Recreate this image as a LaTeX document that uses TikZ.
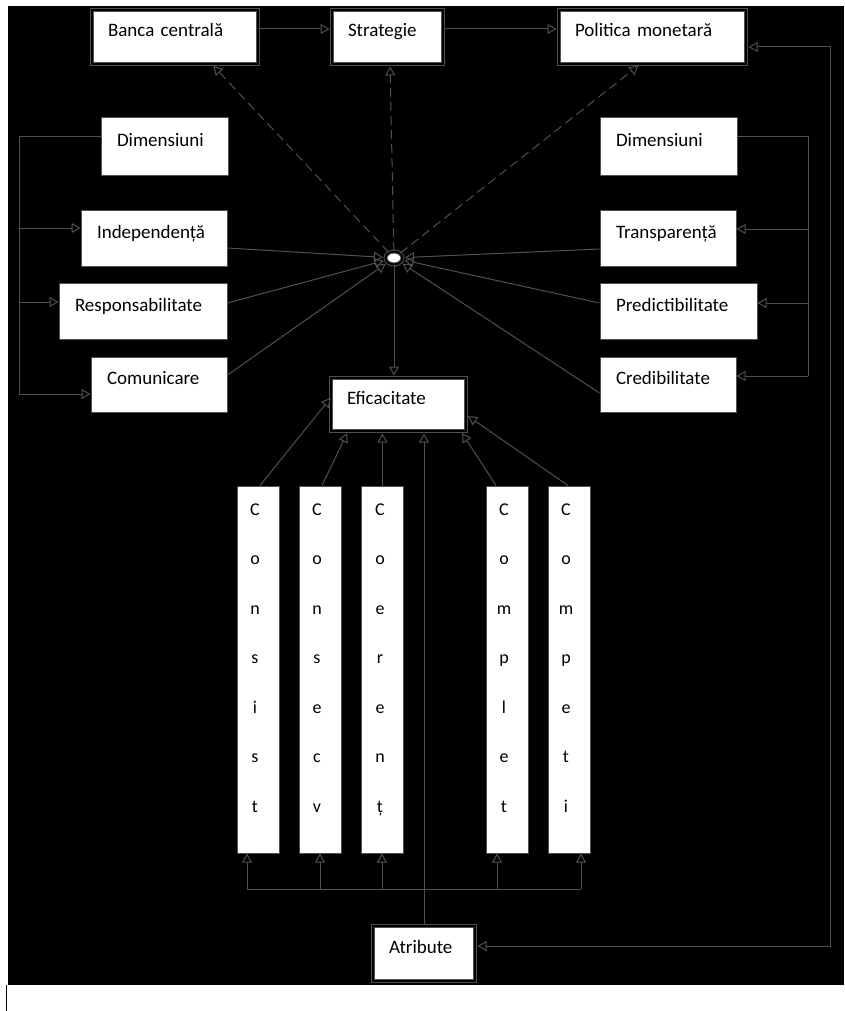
\documentclass[tikz,border=0pt]{standalone}
\usepackage{fontspec}
\setmainfont{Carlito}
\usetikzlibrary{arrows.meta,shapes.geometric,calc}
\definecolor{lc}{HTML}{505050}
\begin{document}
\begin{tikzpicture}[x=1pt,y=-1pt,
  every node/.style={font=\fontsize{19}{23}\selectfont, text=black},
  conn/.style={draw=lc, line width=1pt},
  tip/.style={-{Triangle[open,length=9pt,width=10pt]}},
  bothtip/.style={{Triangle[open,length=9pt,width=10pt]}-{Triangle[open,length=9pt,width=10pt]}},
  dsh/.style={conn, dash pattern=on 9pt off 5pt},
  sbox/.style={draw=lc, line width=1pt, fill=white, inner xsep=16pt, inner ysep=0pt, align=left},
  dbox/.style={sbox, double=black, double distance=2pt},
  cbox/.style={draw=lc, line width=1pt, fill=white, minimum width=42pt, minimum height=367pt, inner sep=0pt},
  letter/.style={font=\fontsize{18}{20}\selectfont, anchor=base, inner sep=0pt},
  hubst/.style={ellipse, draw=lc, line width=1pt, fill=white, double=black, double distance=2pt, minimum width=17pt, minimum height=13pt, inner sep=0pt}
]
\useasboundingbox (0,0) rectangle (844,1011);
\fill[white] (0,0) rectangle (844,1011);
\fill[black] (8,6) rectangle (844,985);
\draw[black, line width=1.5pt] (6.5,985) -- (6.5,1011);

% top row
\node[dbox, minimum height=54pt, text width=134pt] (banca) at (175,37) {\smash{Banca centrală}};
\node[dbox, minimum height=54pt, text width=79pt] (strat) at (387.5,37) {\smash{Strategie}};
\node[dbox, minimum height=54pt, text width=155pt] (polit) at (652.5,37) {\smash{Politica monetară}};

% left column
\node[sbox, minimum height=58pt, text width=95pt] (diml) at (164.5,147) {\smash{Dimensiuni}};
\node[sbox, minimum height=56pt, text width=114pt] (ind) at (154,238) {\smash{Independență}};
\node[sbox, minimum height=56pt, text width=136pt] (resp) at (143,311) {\smash{Responsabilitate}};
\node[sbox, minimum height=55pt, text width=104pt] (com) at (159,384.5) {\smash{Comunicare}};

% right column
\node[sbox, minimum height=58pt, text width=105pt] (dimr) at (668.5,147) {\smash{Dimensiuni}};
\node[sbox, minimum height=56pt, text width=104pt] (trans) at (668,238) {\smash{Transparență}};
\node[sbox, minimum height=56pt, text width=125pt] (pred) at (678.5,311) {\smash{Predictibilitate}};
\node[sbox, minimum height=55pt, text width=104pt] (cred) at (668,384.5) {\smash{Credibilitate}};

% centre
\node[hubst] (hub) at (394,258) {};
\node[dbox, minimum height=53pt, text width=103pt] (efic) at (398.5,404.5) {\smash{Eficacitate}};
\node[dbox, minimum height=55pt, text width=70pt] (atr) at (424,953.5) {\smash{Atribute}};

% vertical attribute boxes
\node[cbox] (c1) at (258,669.5) {};
\node[cbox] (c2) at (320,669.5) {};
\node[cbox] (c3) at (382.5,669.5) {};
\node[cbox] (c4) at (507,669.5) {};
\node[cbox] (c5) at (569,669.5) {};
\foreach \ch [count=\i] in {C,o,n,s,i,s,t}
  \node[letter] (c1l\i) at (255,{515+49.5*(\i-1)}) {\ch};
\foreach \ch [count=\i] in {C,o,n,s,e,c,v}
  \node[letter] (c2l\i) at (317,{515+49.5*(\i-1)}) {\ch};
\foreach \ch [count=\i] in {C,o,e,r,e,n,ț}
  \node[letter] (c3l\i) at (380,{515+49.5*(\i-1)}) {\ch};
\foreach \ch [count=\i] in {C,o,m,p,l,e,t}
  \node[letter] (c4l\i) at (504,{515+49.5*(\i-1)}) {\ch};
\foreach \ch [count=\i] in {C,o,m,p,e,t,i}
  \node[letter] (c5l\i) at (566,{515+49.5*(\i-1)}) {\ch};

% coordinates
\coordinate (L1) at (19,137);
\coordinate (L2) at (19,228);
\coordinate (L3) at (19,302);
\coordinate (L4) at (19,394);
\coordinate (R1) at (808,137);
\coordinate (R2) at (808,229);
\coordinate (R3) at (808,303);
\coordinate (R4) at (808,376);
\coordinate (P1) at (830,47);
\coordinate (P2) at (830,946);
\coordinate (K1) at (247,889);
\coordinate (K2) at (320,889);
\coordinate (K3) at (382,889);
\coordinate (K4) at (497,889);
\coordinate (K5) at (581,889);

% top arrows
\draw[conn,tip,shorten >=2pt] ([yshift=8pt]banca.east) -- ([yshift=8pt]strat.west);
\draw[conn,tip,shorten >=2pt] ([yshift=8pt]strat.east) -- ([yshift=8pt]polit.west);

% dashed arrows from hub
\draw[dsh,tip,shorten >=2pt] (hub) -- ([xshift=37pt]banca.south);
\draw[dsh,tip,shorten >=2pt] (hub) -- ([xshift=2.5pt]strat.south);
\draw[dsh,tip,shorten >=2pt] (hub) -- ([xshift=-12.5pt]polit.south);

% solid arrows into hub
\draw[conn,tip,shorten >=2pt] ([yshift=-10pt]ind.east) -- (hub);
\draw[conn,tip,shorten >=2pt] ([yshift=8pt]resp.east) -- (hub);
\draw[conn,tip,shorten >=2pt] ([yshift=9.5pt]com.east) -- (hub);
\draw[conn,tip,shorten >=2pt] ([yshift=-11pt]trans.west) -- (hub);
\draw[conn,tip,shorten >=2pt] ([yshift=8pt]pred.west) -- (hub);
\draw[conn,tip,shorten >=2pt] ([yshift=-8.5pt]cred.west) -- (hub);

% hub to Eficacitate
\draw[conn,tip,shorten >=2pt] (hub.south) -- (hub.south |- efic.north);

% left bracket
\draw[conn] ([yshift=10pt]diml.west) -- (L1) -- (L4);
\draw[conn,tip] (L2) -- (L2 -| ind.west);
\draw[conn,tip] (L3) -- (L3 -| resp.west);
\draw[conn,tip] (L4) -- (L4 -| com.west);

% right bracket
\draw[conn] ([yshift=10pt]dimr.east) -- (R1) -- (R4);
\draw[conn,tip] (R2) -- (R2 -| trans.east);
\draw[conn,tip] (R3) -- (R3 -| pred.east);
\draw[conn,tip] (R4) -- (R4 -| cred.east);

% outer loop
\draw[conn,bothtip,shorten >=2pt,shorten <=2pt] (P1 -| polit.east) -- (P1) -- (P2) -- (P2 -| atr.east);

% C boxes to Eficacitate
\draw[conn,tip] ([xshift=2pt]c1.north) -- ([yshift=6.5pt]efic.west);
\draw[conn,tip,shorten >=2pt] ([xshift=2pt]c2.north) -- ([xshift=-50.5pt]efic.south);
\draw[conn,tip,shorten >=2pt] (c3.north) -- (c3.north |- efic.south);
\draw[conn,tip,shorten >=2pt] ([xshift=-11pt]c4.north) -- ([xshift=62.5pt]efic.south);
\draw[conn,tip,shorten >=2pt] ([xshift=-1pt]c5.north) -- ([yshift=-10.5pt]efic.east);

% Atribute to Eficacitate and bus
\draw[conn,tip,shorten >=2pt] ([yshift=2pt]atr.north) -- (atr.north |- efic.south);
\draw[conn] (K1) -- (K5);
\draw[conn,tip] (K1) -- (K1 |- c1.south);
\draw[conn,tip] (K2) -- (K2 |- c2.south);
\draw[conn,tip] (K3) -- (K3 |- c3.south);
\draw[conn,tip] (K4) -- (K4 |- c4.south);
\draw[conn,tip] (K5) -- (K5 |- c5.south);
\end{tikzpicture}
\end{document}
